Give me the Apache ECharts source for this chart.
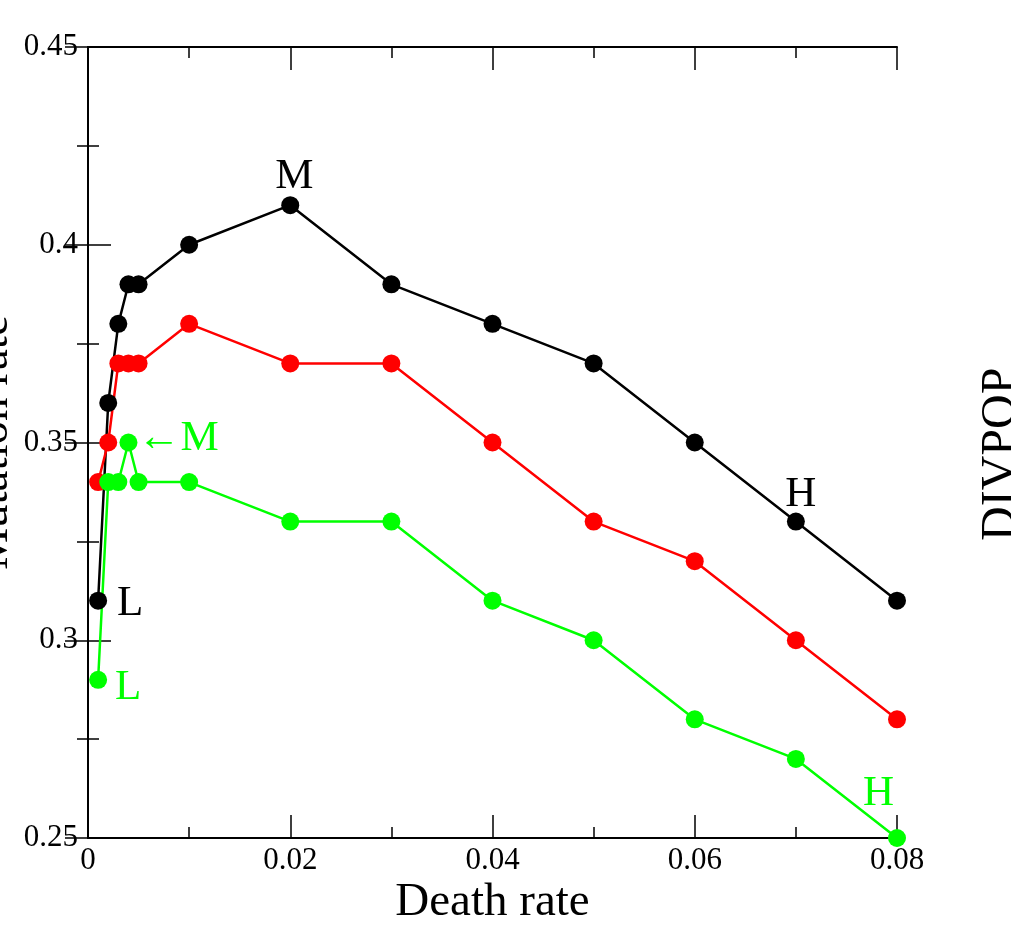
<!DOCTYPE html>
<html>
<head>
<meta charset="utf-8">
<script src="https://cdn.jsdelivr.net/npm/echarts@6/dist/echarts.min.js"></script>
<style>
  html, body { margin: 0; padding: 0; background: #fff; }
  #chart { width: 1011px; height: 933px; }
</style>
</head>
<body>
<div id="chart"></div>
<script>
// death rates (x)
const deathRate = [0.001, 0.002, 0.003, 0.004, 0.005, 0.01, 0.02, 0.03, 0.04, 0.05, 0.06, 0.07, 0.08];
// mutation rates (y)
const blackRate = [0.31, 0.36, 0.38, 0.39, 0.39, 0.40, 0.41, 0.39, 0.38, 0.37, 0.35, 0.33, 0.31];
const redRate   = [0.34, 0.35, 0.37, 0.37, 0.37, 0.38, 0.37, 0.37, 0.35, 0.33, 0.32, 0.30, 0.28];
const greenRate = [0.29, 0.34, 0.34, 0.35, 0.34, 0.34, 0.33, 0.33, 0.31, 0.30, 0.28, 0.27, 0.25];
// point labels: series -> {index: text}
const blackNotes = {0: 'L', 6: 'M', 11: 'H'};
const greenNotes = {0: 'L', 3: '\u2190M', 12: 'H'};

const FONT = 'Liberation Serif';

const chart = echarts.init(document.getElementById('chart'));

function labelFor(note, color) {
  // where each letter sits next to its point
  const pos = {
    'L': {position: 'right', offset: [4, 3]},
    'M': {position: 'top', offset: [4, 8]},
    'H': {position: 'top', offset: [5, 10]},
    '\u2190M': {position: 'right', offset: [-6, -4]}
  }[note];
  return Object.assign({
    show: true, formatter: note, color: color,
    fontFamily: FONT, fontSize: 43, distance: 6
  }, pos);
}

function buildData(ys, notes, color) {
  return deathRate.map((x, i) => {
    const d = {value: [x, ys[i]]};
    if (notes && notes[i]) d.label = labelFor(notes[i], color);
    return d;
  });
}

function lineSeries(name, ys, color, notes) {
  return {
    name: name,
    type: 'line',
    data: buildData(ys, notes, color),
    symbol: 'circle',
    symbolSize: 18,
    lineStyle: {color: color, width: 2.5},
    itemStyle: {color: color},
    label: {show: false},
    emphasis: {disabled: true},
    animation: false
  };
}

// special cases for label placement of green L / H
const greenSeries = lineSeries('green', greenRate, '#00ff00', greenNotes);
greenSeries.data[0].label.offset = [2, 8];
greenSeries.data[12].label.position = 'left';
greenSeries.data[12].label.offset = [12, -44];

const tickCommon = {
  axisLine: {show: true, lineStyle: {color: '#000', width: 2}},
  axisTick: {show: true, inside: true, length: 23, lineStyle: {color: '#000', width: 1.5}},
  minorTick: {show: true, splitNumber: 2, length: 11, lineStyle: {color: '#000', width: 1.5}},
  splitLine: {show: false},
  minorSplitLine: {show: false}
};

chart.setOption({
  backgroundColor: '#fff',
  animation: false,
  grid: {left: 88, right: 114, top: 47, bottom: 95, containLabel: false, outerBoundsMode: 'none'},
  xAxis: [
    Object.assign({
      type: 'value', min: 0, max: 0.08, interval: 0.02, position: 'bottom',
      name: 'Death rate', nameLocation: 'middle', nameGap: 41, nameMoveOverlap: false,
      nameTextStyle: {fontFamily: FONT, fontSize: 47, color: '#000'},
      axisLabel: {fontFamily: FONT, fontSize: 31, color: '#000', margin: 7}
    }, tickCommon),
    Object.assign({
      type: 'value', min: 0, max: 0.08, interval: 0.02, position: 'top',
      axisLabel: {show: false}
    }, tickCommon)
  ],
  yAxis: [
    Object.assign({
      type: 'value', min: 0.25, max: 0.45, interval: 0.05, position: 'left',
      name: 'Mutation rate', nameLocation: 'middle', nameGap: 70, nameMoveOverlap: false,
      nameTextStyle: {fontFamily: FONT, fontSize: 47, color: '#000'},
      axisLabel: {fontFamily: FONT, fontSize: 31, color: '#000', margin: 10}
    }, tickCommon),
    Object.assign({
      type: 'value', min: 0.25, max: 0.45, interval: 0.05, position: 'right',
      axisLabel: {show: false}
    }, tickCommon)
  ],
  graphic: [{
    type: 'text',
    x: 977,
    y: 541,
    rotation: Math.PI / 2,
    style: {text: 'DIVPOP', font: '48px "Liberation Serif"', fill: '#000', textVerticalAlign: 'top'}
  }],
  series: [
    lineSeries('black', blackRate, '#000000', blackNotes),
    lineSeries('red', redRate, '#ff0000', null),
    greenSeries
  ]
});
</script>
</body>
</html>
